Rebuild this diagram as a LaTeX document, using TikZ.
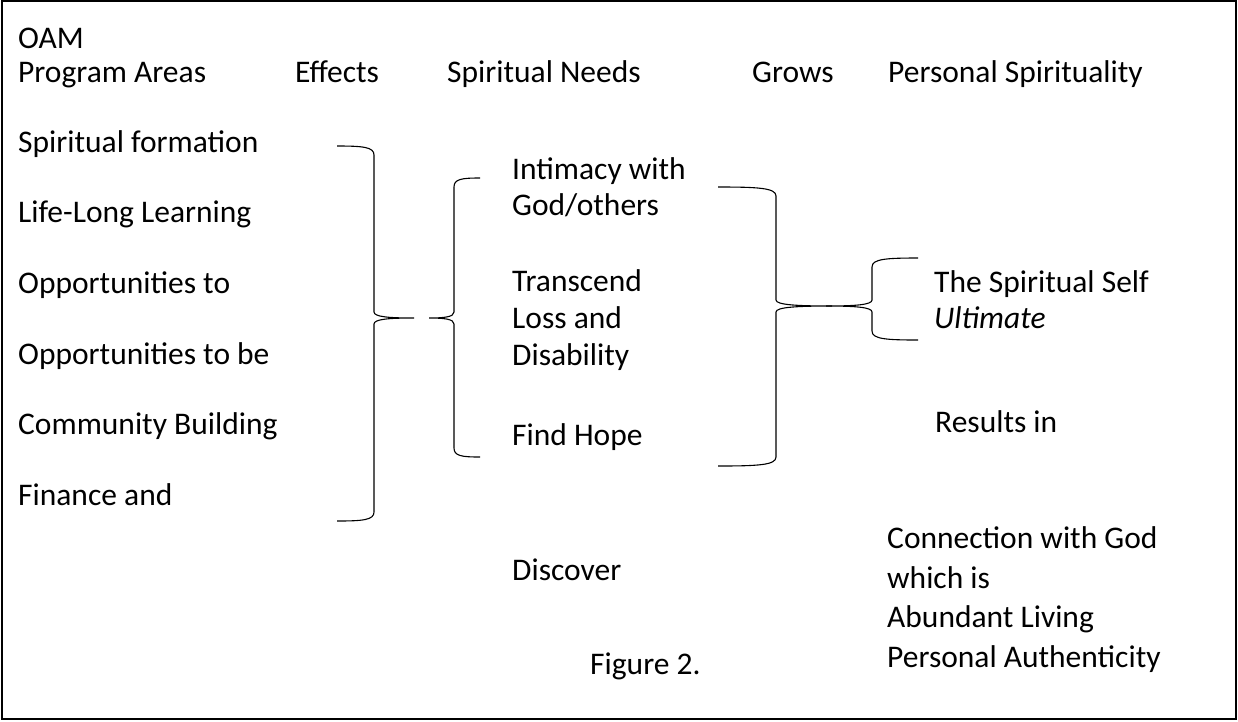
\documentclass[tikz,border=0pt]{standalone}
\usepackage{fontspec}
\setmainfont{Carlito}
\usepackage{tikz}

% curly bracket as drawn in the figure: tip x, stem x, cusp x, top y, middle y, bottom y
\newcommand{\wordbrace}[6]{%
  \draw[bracket] (#1,#4) .. controls ({#2+0.3*(#1-#2)},#4) and (#2,{#4+1}) .. (#2,{#4+9})
    -- (#2,{#5-6}) .. controls (#2,{#5-1}) and ({#3+0.6*(#2-#3)},#5) .. (#3,#5)
    .. controls ({#3+0.6*(#2-#3)},#5) and (#2,{#5+1}) .. (#2,{#5+6})
    -- (#2,{#6-9}) .. controls (#2,{#6-1}) and ({#2+0.3*(#1-#2)},#6) .. (#1,#6);}

\begin{document}
\begin{tikzpicture}[x=1pt, y=-1pt,
    txt/.style = {anchor=base west, inner sep=0pt, align=left,
                  font=\fontsize{31.5}{37}\selectfont},
    bracket/.style = {line width=1.1pt}]
    \useasboundingbox (0,0) rectangle (1238,721);
    \draw[line width=2pt] (1.5,1) rectangle (1236,718.5);

    % header row
    \node[txt, font=\fontsize{31.5}{34}\selectfont] at (18, 82) (oam) {OAM\\Program Areas};
    \node[txt] at (295, 82) (effects) {Effects};
    \node[txt] at (447, 82) (needs) {Spiritual Needs};
    \node[txt] at (752, 82) (grows) {Grows};
    \node[txt] at (888, 82) (personal) {Personal Spirituality};

    % program areas
    \node[txt] at (18, 152) (formation) {Spiritual formation};
    \node[txt] at (18, 222) (learning) {Life-Long Learning};
    \node[txt] at (18, 293) (opp) {Opportunities to};
    \node[txt] at (18, 364) (oppbe) {Opportunities to be};
    \node[txt] at (18, 434) (community) {Community Building};
    \node[txt] at (18, 505) (finance) {Finance and};

    % spiritual needs
    \node[txt, font=\fontsize{31.5}{36}\selectfont] at (512, 215) (intimacy) {Intimacy with\\God/others};
    \node[txt] at (512, 365) (transcend) {Transcend\\Loss and\\Disability};
    \node[txt] at (512, 445) (hope) {Find Hope};
    \node[txt] at (512, 580) (discover) {Discover};

    % personal spirituality
    \node[txt, font=\fontsize{31.5}{36}\selectfont] at (934, 328) (self) {The Spiritual Self\\\textit{Ultimate}};
    \node[txt] at (935, 432) (results) {Results in};
    \node[txt, font=\fontsize{31.5}{39.5}\selectfont] at (887, 667) (connection) {Connection with God\\which is\\Abundant Living\\Personal Authenticity};

    \node[txt] at (590, 674) (figure) {Figure 2.};

    % brackets
    \wordbrace{337}{374}{414}{146}{318}{521}
    \wordbrace{480}{454}{429}{178}{318}{457}
    \wordbrace{718}{776}{832}{187}{306}{466}
    \wordbrace{918}{872}{826}{258}{306}{340}
\end{tikzpicture}
\end{document}
